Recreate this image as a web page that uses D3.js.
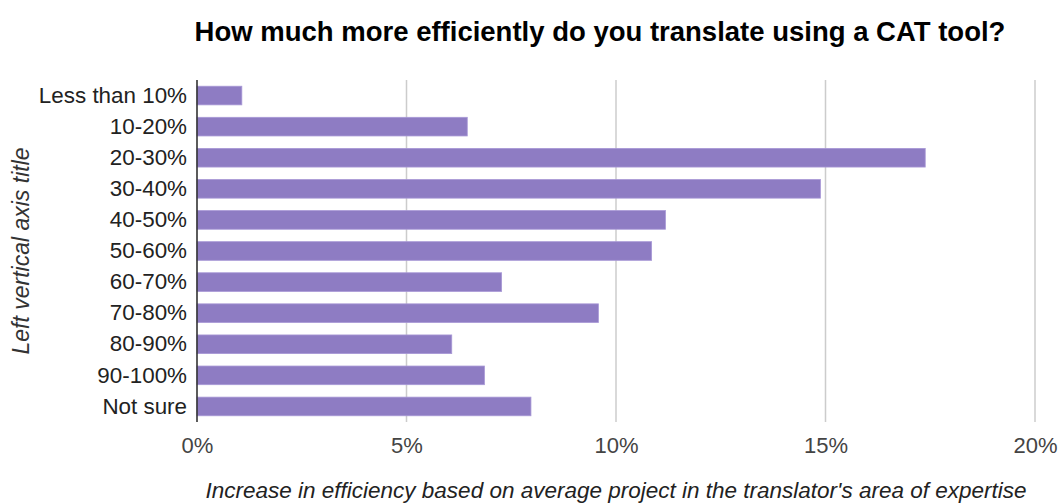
<!DOCTYPE html>
<html>
<head>
<meta charset="utf-8">
<script src="https://cdn.jsdelivr.net/npm/d3@7"></script>
<style>
  html, body { margin: 0; padding: 0; background: #fff; }
  svg { display: block; font-family: "Liberation Sans", Arial, sans-serif; }
</style>
</head>
<body>
<svg id="chart" width="1061" height="504"></svg>
<script>
const categories = ["Less than 10%", "10-20%", "20-30%", "30-40%", "40-50%", "50-60%",
                    "60-70%", "70-80%", "80-90%", "90-100%", "Not sure"];
const values = [1.07, 6.45, 17.38, 14.88, 11.18, 10.85, 7.27, 9.58, 6.08, 6.86, 7.97];
const xTicks = [0, 5, 10, 15, 20];
const titleText = "How much more efficiently do you translate using a CAT tool?";
const xTitle = "Increase in efficiency based on average project in the translator's area of expertise";
const yTitle = "Left vertical axis title";

const svg = d3.select("#chart");
const margin = { left: 197, right: 26, top: 80, bottom: 82 };
const W = 1061, H = 504;

const x = d3.scaleLinear().domain([0, 20]).range([margin.left, W - margin.right]);
const y = d3.scaleBand().domain(categories).range([margin.top, H - margin.bottom])
  .paddingInner(0.4).paddingOuter(0.2);

// gridlines
svg.append("g").selectAll("line").data(xTicks.filter(d => d > 0)).join("line")
  .attr("x1", d => x(d)).attr("x2", d => x(d))
  .attr("y1", margin.top).attr("y2", H - margin.bottom)
  .attr("stroke", "#cccccc").attr("stroke-width", 1.5);

// bars
svg.append("g").selectAll("rect").data(values).join("rect")
  .attr("x", x(0))
  .attr("y", (d, i) => y(categories[i]))
  .attr("width", d => x(d) - x(0))
  .attr("height", y.bandwidth())
  .attr("fill", "#8e7cc3")
  .attr("stroke", "#a898d6").attr("stroke-width", 0.8);

// left axis line
svg.append("line")
  .attr("x1", x(0)).attr("x2", x(0))
  .attr("y1", margin.top).attr("y2", H - margin.bottom)
  .attr("stroke", "#333").attr("stroke-width", 1.6);

// y labels
const yAxis = d3.axisLeft(y).tickSize(0).tickPadding(10);
const gy = svg.append("g").attr("transform", `translate(${x(0)},0)`).call(yAxis);
gy.select(".domain").remove();
gy.selectAll("text").attr("font-size", 22.4).attr("fill", "#222")
  .attr("font-family", "Liberation Sans, Arial, sans-serif");

// x labels
const xAxis = d3.axisBottom(x).tickValues(xTicks).tickFormat(d => d + "%").tickSize(0).tickPadding(15);
const gx = svg.append("g").attr("transform", `translate(0,${H - margin.bottom})`).call(xAxis);
gx.select(".domain").remove();
gx.selectAll("text").attr("font-size", 22).attr("fill", "#444")
  .attr("font-family", "Liberation Sans, Arial, sans-serif");

// title
svg.append("text")
  .attr("x", 600).attr("y", 41)
  .attr("text-anchor", "middle")
  .attr("font-size", 27.5).attr("font-weight", "bold").attr("fill", "#000")
  .text(titleText);

// x axis title
svg.append("text")
  .attr("x", (x(0) + x(20)) / 2).attr("y", 498)
  .attr("text-anchor", "middle")
  .attr("font-size", 22.5).attr("font-style", "italic").attr("fill", "#222")
  .text(xTitle);

// y axis title
svg.append("text")
  .attr("transform", `translate(29,${(margin.top + H - margin.bottom) / 2}) rotate(-90)`)
  .attr("text-anchor", "middle")
  .attr("font-size", 23).attr("font-style", "italic").attr("fill", "#333")
  .text(yTitle);
</script>
</body>
</html>
